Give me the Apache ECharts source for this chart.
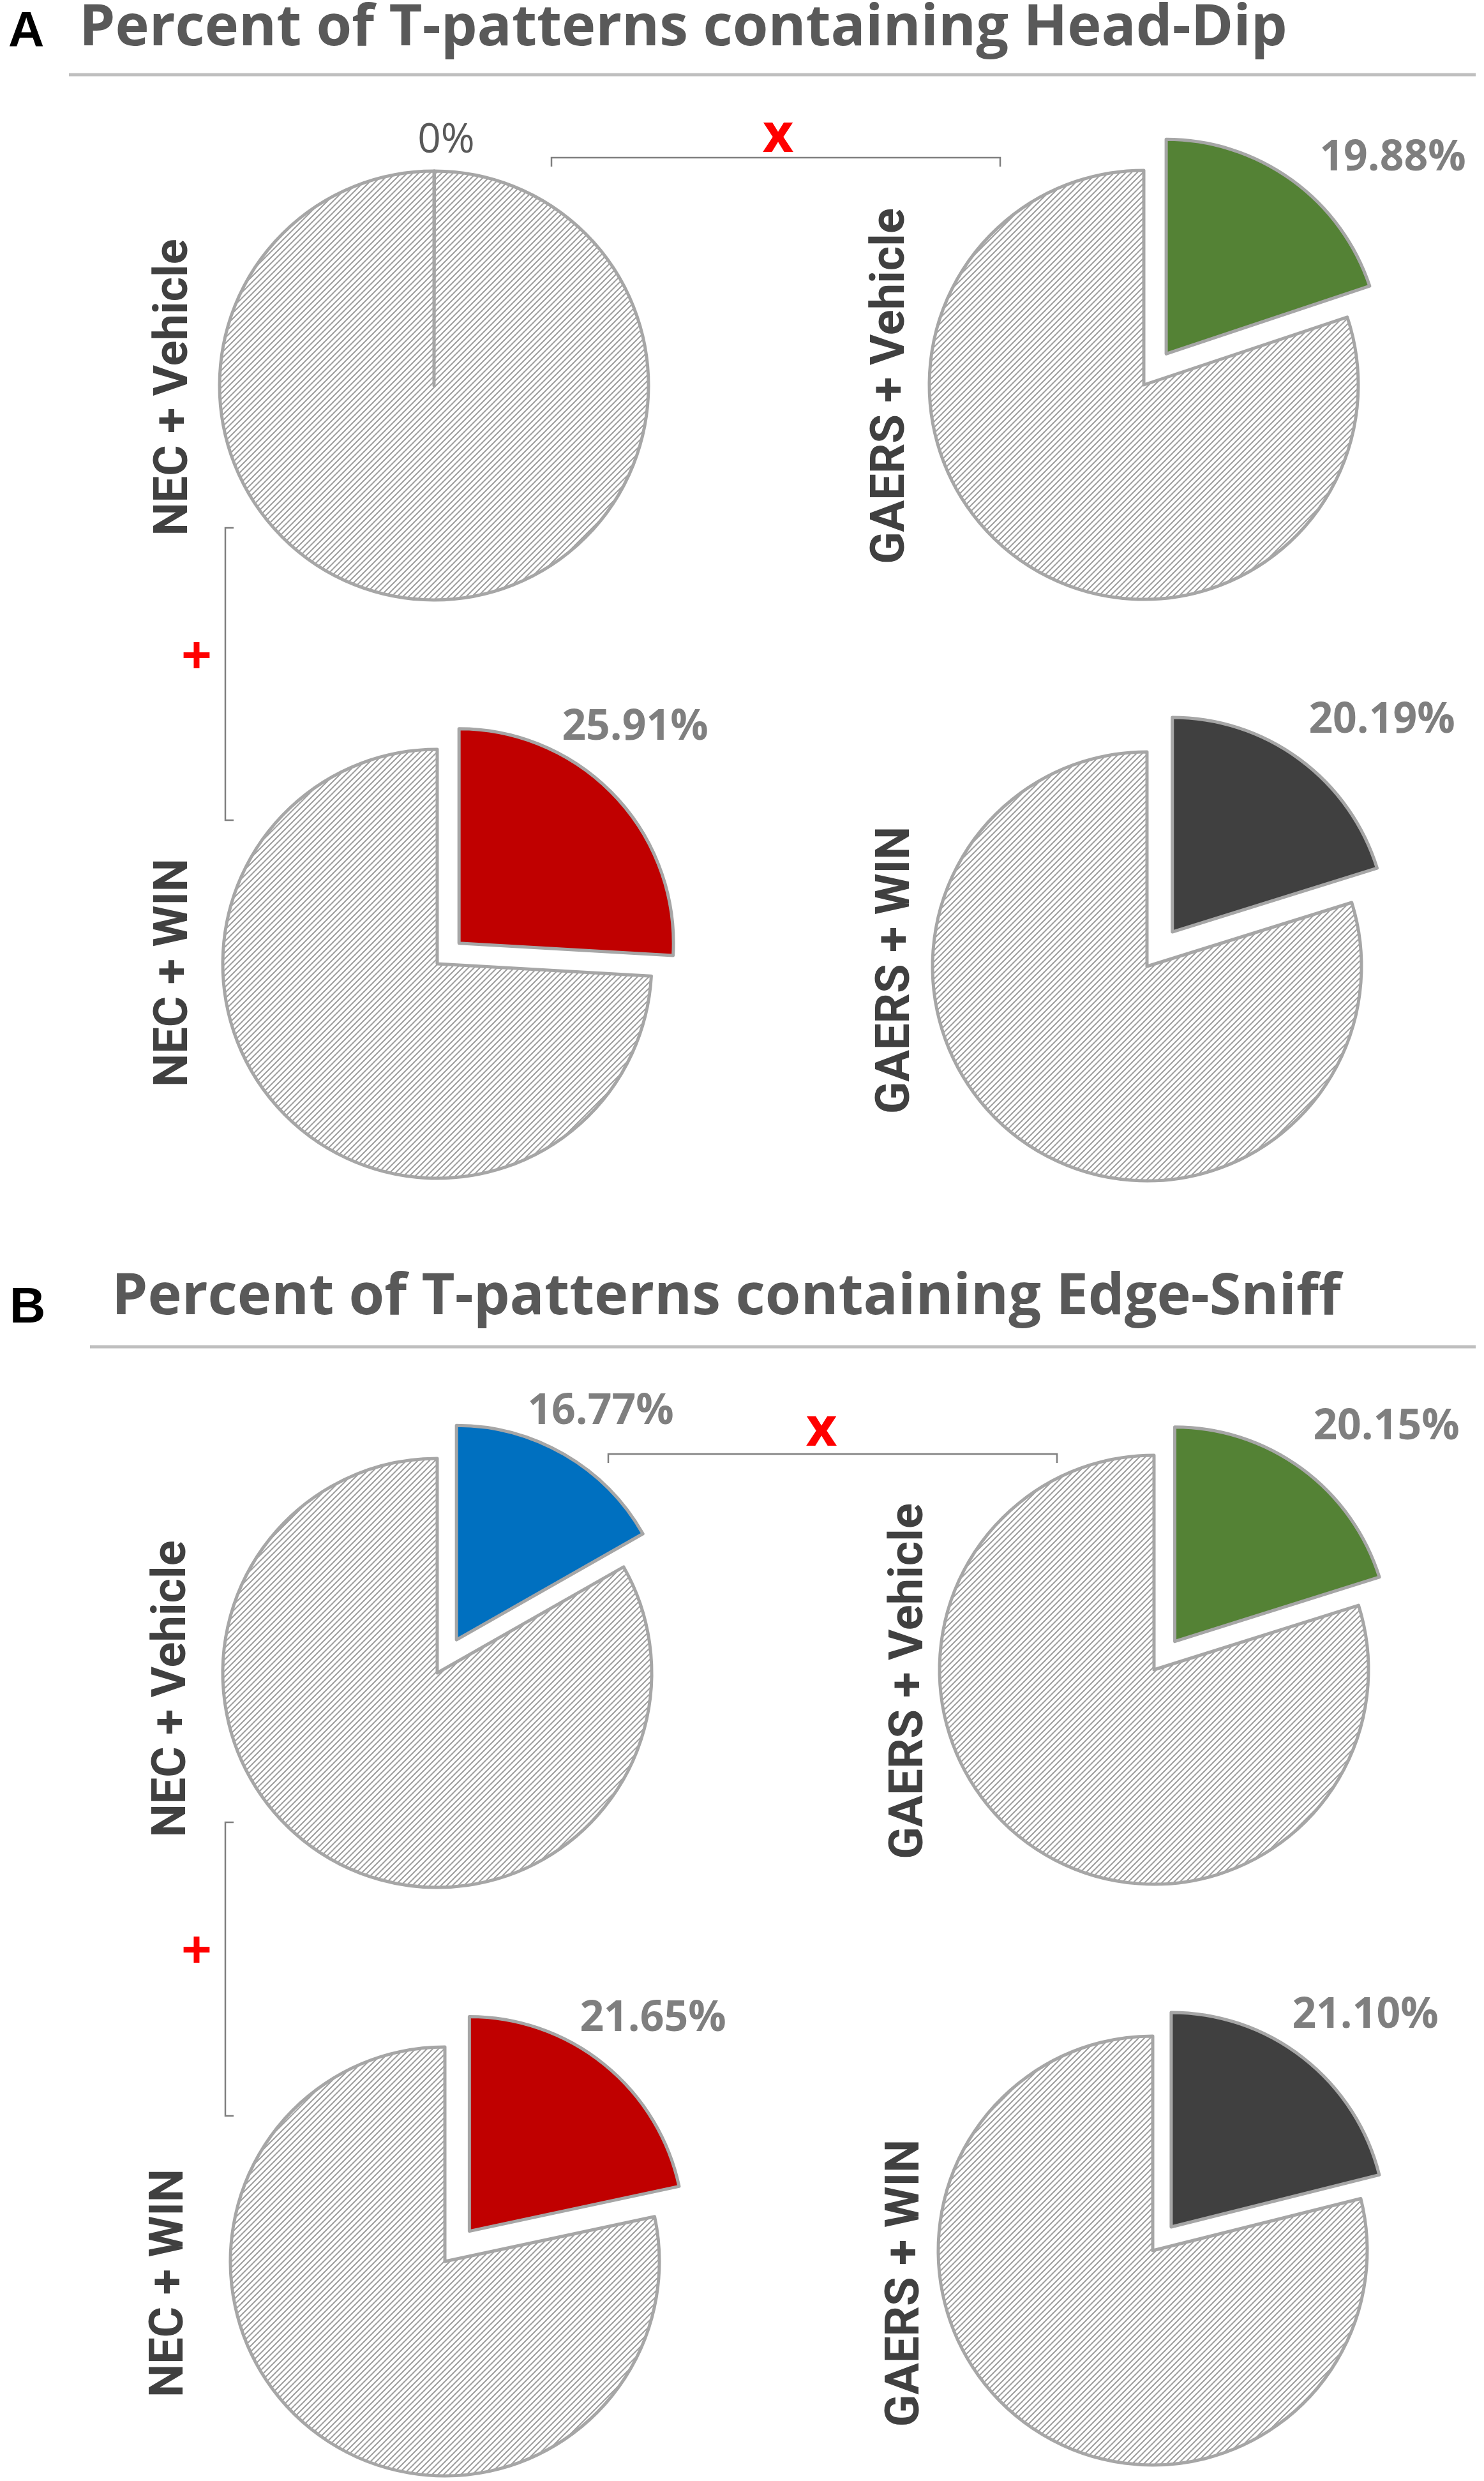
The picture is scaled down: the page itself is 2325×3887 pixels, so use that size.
<!DOCTYPE html>
<html>
<head>
<meta charset="utf-8">
<script src="https://cdn.jsdelivr.net/npm/echarts@6/dist/echarts.min.js"></script>
<style>
  html, body { margin: 0; padding: 0; background: #fff; }
  #main { width: 2325px; height: 3887px; }
</style>
</head>
<body>
<div id="main"></div>
<script>
// data
const panelLetters = ['A', 'B']
const panelTitles = ['Percent of T-patterns containing Head-Dip', 'Percent of T-patterns containing Edge-Sniff']
const groups = ['NEC + Vehicle', 'GAERS + Vehicle', 'NEC + WIN', 'GAERS + WIN']
const headDipPct = [0, 19.88, 25.91, 20.19]
const edgeSniffPct = [16.77, 20.15, 21.65, 21.10]
const groupColors = ['#0070C0', '#548235', '#C00000', '#404040']
const panelValues = [headDipPct, edgeSniffPct]

// layout (pixels)
const R = 336
const pieCenters = [
  [[680, 604], [1792, 603], [685, 1510], [1797, 1514]],
  [[685, 2621], [1808, 2616], [697, 3543], [1806, 3526]]
]
const explode = [[0, 60, 47, 67], [60, 55, 61, 47]]
const valueLabelPos = [
  [[699, 221], [2182, 248], [995, 1140], [2165, 1129]],
  [[941, 2212], [2172, 2236], [1023, 3163], [2139, 3158]]
]
const groupLabelPos = [
  [[274, 607], [1397, 605], [274, 1524], [1405, 1520]],
  [[271, 2646], [1426, 2634], [267, 3577], [1420, 3577]]
]
const titlePos = [[124, 45], [175, 2033]]
const letterPos = [[13, 51], [15, 2050]]
const rulePos = [[108, 117], [141, 2110]]
const topBracket = [[864, 1567, 247], [953, 1656, 2278]]
const sideBracket = [[353, 827, 1285], [353, 2855, 3315]]
const xMark = [[1219, 214], [1287, 2241]]
const plusMark = [[308, 1032], [308, 3060]]

function makeHatch() {
  const s = 9
  const c = document.createElement('canvas')
  c.width = s; c.height = s
  const ctx = c.getContext('2d')
  ctx.fillStyle = '#ffffff'
  ctx.fillRect(0, 0, s, s)
  ctx.strokeStyle = '#9e9e9e'
  ctx.lineWidth = 2
  ctx.beginPath()
  ctx.moveTo(0, s); ctx.lineTo(s, 0)
  ctx.moveTo(-2, 2); ctx.lineTo(2, -2)
  ctx.moveTo(s - 2, s + 2); ctx.lineTo(s + 2, s - 2)
  ctx.stroke()
  return c
}
const hatch = { image: makeHatch(), repeat: 'repeat' }
const clear = { color: 'rgba(0,0,0,0)', borderWidth: 0 }

function fmt(v) {
  return v === 0 ? '0%' : v.toFixed(2) + '%'
}

function valueLabel(v) {
  return {
    show: true,
    formatter: function (d) { return fmt(d.value) },
    fontFamily: 'Open Sans',
    fontSize: v === 0 ? 64 : 66,
    fontWeight: v === 0 ? 'normal' : 'bold',
    color: v === 0 ? '#595959' : '#7F7F7F'
  }
}

function pieBase(center) {
  return {
    type: 'pie',
    center: center,
    radius: R,
    startAngle: 90,
    clockwise: true,
    silent: true,
    animation: false,
    avoidLabelOverlap: false,
    emphasis: { disabled: true },
    labelLine: { show: false },
    itemStyle: { borderColor: '#A6A6A6', borderWidth: 5 }
  }
}

const series = []
panelValues.forEach(function (vals, p) {
  vals.forEach(function (v, g) {
    const c = pieCenters[p][g]
    const lp = valueLabelPos[p][g]
    const layoutFn = function (params) {
      if (params.dataIndex !== 0) return {}
      return { x: lp[0], y: lp[1], align: 'center', verticalAlign: 'middle' }
    }
    // hatched remainder (the group slice is left empty when exploded)
    const base = pieBase(c)
    base.minAngle = v === 0 ? 0.1 : 0
    base.data = [
      {
        value: v, name: groups[g],
        itemStyle: v > 0 ? clear : { color: hatch },
        label: v > 0 ? { show: false } : valueLabel(v)
      },
      { value: 100 - v, name: 'rest', itemStyle: { color: hatch }, label: { show: false } }
    ]
    if (v === 0) base.labelLayout = layoutFn
    series.push(base)
    if (v > 0) {
      // exploded slice, pulled out along its bisector
      const mid = v / 100 * Math.PI
      const off = explode[p][g]
      const ex = pieBase([c[0] + off * Math.sin(mid), c[1] - off * Math.cos(mid)])
      ex.data = [
        { value: v, name: groups[g], itemStyle: { color: groupColors[g] }, label: valueLabel(v) },
        { value: 100 - v, name: 'rest', itemStyle: clear, label: { show: false } }
      ]
      ex.labelLayout = layoutFn
      series.push(ex)
    }
  })
})

const graphic = []
panelTitles.forEach(function (t, p) {
  graphic.push({
    type: 'text', x: letterPos[p][0], y: letterPos[p][1],
    style: { text: panelLetters[p], font: 'bold 78px "Liberation Sans"', fill: '#000', align: 'left', verticalAlign: 'middle' }
  })
  graphic.push({
    type: 'text', x: titlePos[p][0], y: titlePos[p][1],
    style: { text: t, font: 'bold 90px "Open Sans"', fill: '#595959', align: 'left', verticalAlign: 'middle' }
  })
  graphic.push({
    type: 'line', shape: { x1: rulePos[p][0], y1: rulePos[p][1], x2: 2312, y2: rulePos[p][1] },
    style: { stroke: '#BFBFBF', lineWidth: 5 }
  })
  const tb = topBracket[p]
  graphic.push({
    type: 'polyline',
    shape: { points: [[tb[0], tb[2] + 14], [tb[0], tb[2]], [tb[1], tb[2]], [tb[1], tb[2] + 14]] },
    style: { stroke: '#7F7F7F', lineWidth: 2.5, fill: null }
  })
  const sb = sideBracket[p]
  graphic.push({
    type: 'polyline',
    shape: { points: [[sb[0] + 13, sb[1]], [sb[0], sb[1]], [sb[0], sb[2]], [sb[0] + 13, sb[2]]] },
    style: { stroke: '#7F7F7F', lineWidth: 2.5, fill: null }
  })
  graphic.push({
    type: 'text', x: xMark[p][0], y: xMark[p][1],
    style: { text: 'x', font: 'bold 84px "Open Sans"', fill: '#FF0000', align: 'center', verticalAlign: 'middle' }
  })
  graphic.push({
    type: 'text', x: plusMark[p][0], y: plusMark[p][1],
    style: { text: '+', font: 'bold 84px "Open Sans"', fill: '#FF0000', align: 'center', verticalAlign: 'middle' }
  })
  groups.forEach(function (name, g) {
    const gp = groupLabelPos[p][g]
    graphic.push({
      type: 'text', x: gp[0], y: gp[1], rotation: Math.PI / 2,
      style: { text: name, font: 'bold 74px Roboto', fill: '#404040', align: 'center', verticalAlign: 'middle' }
    })
  })
})

const chart = echarts.init(document.getElementById('main'), null, { renderer: 'canvas' })
chart.setOption({
  backgroundColor: '#ffffff',
  animation: false,
  series: series,
  graphic: { elements: graphic }
})
</script>
</body>
</html>
